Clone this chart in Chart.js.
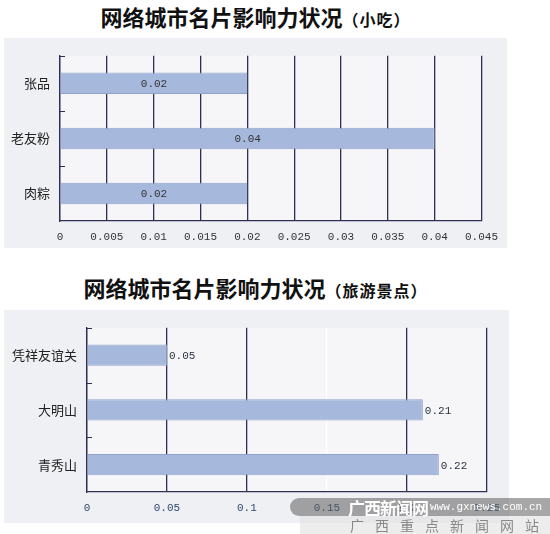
<!DOCTYPE html>
<html>
<head>
  <title>网络城市名片影响力状况</title>
  <script src="https://cdn.jsdelivr.net/npm/chart.js"></script>
  <style>
    body {
      margin: 0;
      background: #fff;
      width: 550px;
      height: 534px;
      position: relative;
      overflow: hidden;
      font-family: 'Noto Sans CJK SC', sans-serif;
    }
    .title {
      position: absolute;
      left: 4px;
      width: 503px;
      text-align: center;
      font-size: 22px;
      font-weight: bold;
      line-height: 30px;
      color: #111;
    }
    .title span {
      font-size: 16px;
      letter-spacing: 1px;
    }
    .panel {
      position: absolute;
      background: #eff0f4;
    }
    .mark-top {
      position: absolute;
      left: 290px;
      top: 498px;
      width: 260px;
      height: 18px;
      background: rgba(95, 95, 95, 0.55);
      border-radius: 9px 0 0 9px;
      color: #fff;
      white-space: nowrap;
    }
    .mark-top b {
      position: absolute;
      left: 58px;
      top: -3px;
      font-size: 17px;
      letter-spacing: -1px;
    }
    .mark-top i {
      position: absolute;
      left: 140px;
      top: 3px;
      font-style: normal;
      font-family: 'Liberation Mono', monospace;
      font-size: 11px;
    }
    .mark-bottom {
      position: absolute;
      left: 300px;
      top: 516px;
      width: 250px;
      height: 18px;
      background: rgba(225, 225, 225, 0.6);
      color: #888;
      font-size: 14px;
      line-height: 18px;
      letter-spacing: 11px;
      padding-left: 50px;
      box-sizing: border-box;
      white-space: nowrap;
    }
  </style>
</head>
<body>
  <div class="title" style="top:1px">网络城市名片影响力状况<span>（小吃）</span></div>
  <div class="panel" style="left:4px;top:38px;width:503px;height:210px">
    <canvas id="snackChart"></canvas>
  </div>

  <div class="title" style="top:272px">网络城市名片影响力状况<span>（旅游景点）</span></div>
  <div class="panel" style="left:4px;top:310px;width:505px;height:213px">
    <canvas id="sightChart"></canvas>
  </div>

  <div class="mark-top"><b>广西新闻网</b><i>www.gxnews.com.cn</i></div>
  <div class="mark-bottom">广西重点新闻网站</div>

  <script>
    // chart data
    const snackNames = ['张品', '老友粉', '肉粽'];
    const snackValues = [0.02, 0.04, 0.02];
    const snackTicks = [0, 0.005, 0.01, 0.015, 0.02, 0.025, 0.03, 0.035, 0.04, 0.045];

    const sightNames = ['凭祥友谊关', '大明山', '青秀山'];
    const sightValues = [0.05, 0.21, 0.22];
    const sightTicks = [0, 0.05, 0.1, 0.15, 0.2, 0.25];

    const gridColor = '#2f2f55';
    const barFill = '#a6b8db';
    const barEdge = '#8ea2cb';

    // light plot area behind the bars
    const plotBackground = {
      id: 'plotBackground',
      beforeDraw(chart) {
        const a = chart.chartArea;
        chart.ctx.save();
        chart.ctx.fillStyle = '#f6f6f8';
        chart.ctx.fillRect(a.left, a.top, a.right - a.left, a.bottom - a.top);
        chart.ctx.restore();
      }
    };

    // short ticks between the categories, inside the plot
    const innerTicks = {
      id: 'innerTicks',
      afterDraw(chart) {
        const y = chart.scales.y;
        const ctx = chart.ctx;
        ctx.save();
        ctx.strokeStyle = gridColor;
        ctx.lineWidth = 1;
        for (let i = 0; i <= chart.data.labels.length - 1; i++) {
          const py = Math.round(y.getPixelForValue(i - 0.5)) + 0.5;
          ctx.beginPath();
          ctx.moveTo(y.right, py);
          ctx.lineTo(y.right + 5, py);
          ctx.stroke();
        }
        ctx.restore();
      }
    };

    // value next to / inside each bar
    const valueLabels = {
      id: 'valueLabels',
      afterDatasetsDraw(chart, args, opts) {
        const ctx = chart.ctx;
        const values = chart.data.datasets[0].data;
        ctx.save();
        ctx.font = '11px "Liberation Mono", monospace';
        ctx.fillStyle = opts.color || '#333';
        ctx.textBaseline = 'middle';
        chart.getDatasetMeta(0).data.forEach((bar, i) => {
          const txt = String(values[i]);
          if (opts.inside) {
            ctx.textAlign = 'center';
            ctx.fillText(txt, (bar.x + bar.base) / 2, bar.y + 1);
          } else {
            ctx.textAlign = 'left';
            ctx.fillText(txt, bar.x + 2, bar.y + 1);
          }
        });
        ctx.restore();
      }
    };

    function makeChart(id, names, values, ticks, o) {
      return new Chart(document.getElementById(id), {
        type: 'bar',
        data: {
          labels: names,
          datasets: [{
            data: values,
            backgroundColor: barFill,
            borderColor: barEdge,
            borderWidth: 1,
            barPercentage: 0.39,
            categoryPercentage: 1
          }]
        },
        plugins: [plotBackground, innerTicks, valueLabels],
        options: {
          indexAxis: 'y',
          responsive: true,
          maintainAspectRatio: false,
          animation: false,
          layout: { padding: { top: o.top, right: o.right, left: 0, bottom: 0 } },
          plugins: {
            legend: { display: false },
            tooltip: { enabled: false },
            valueLabels: { inside: o.inside, color: o.labelColor }
          },
          scales: {
            x: {
              min: 0,
              max: ticks[ticks.length - 1],
              afterBuildTicks: s => { s.ticks = ticks.map(v => ({ value: v })); },
              afterFit: s => { s.height = o.bottom; },
              grid: {
                color: ctx => (o.paleTick !== undefined && ctx.tick && ctx.tick.value === o.paleTick) ? '#ffffff' : gridColor,
                lineWidth: 1.3,
                drawTicks: false
              },
              border: { color: gridColor, width: 1.3 },
              ticks: {
                padding: 9,
                color: o.tickColor,
                font: { family: 'Liberation Mono', size: 11 },
                callback: v => String(v),
                maxRotation: 0,
                autoSkip: false
              }
            },
            y: {
              afterFit: s => { s.width = o.left; },
              grid: { display: false, drawTicks: false },
              border: { color: gridColor, width: 1.3 },
              ticks: {
                padding: 10,
                color: '#222',
                font: { family: 'Noto Sans CJK SC', size: 13 }
              }
            }
          }
        }
      });
    }

    makeChart('snackChart', snackNames, snackValues, snackTicks, {
      left: 56, right: 25, top: 14, bottom: 27,
      inside: true, labelColor: '#333', tickColor: '#333'
    });

    makeChart('sightChart', sightNames, sightValues, sightTicks, {
      left: 83, right: 22, top: 12, bottom: 31,
      inside: false, labelColor: '#2a3340', tickColor: '#2e4a6a', paleTick: 0.15
    });
  </script>
</body>
</html>
